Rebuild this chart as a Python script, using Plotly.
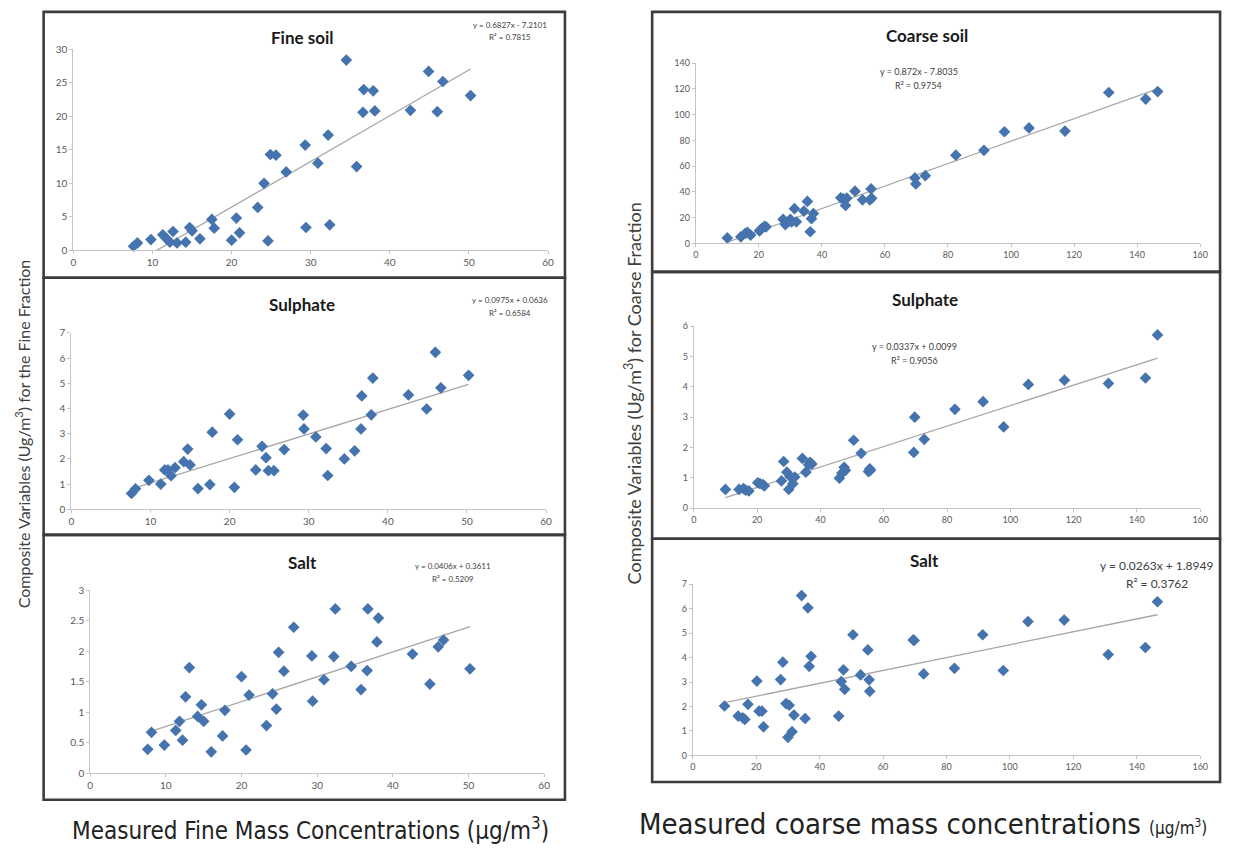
import plotly.graph_objects as go

W, H = 1234, 856

# ---------------- data: fine fraction ----------------
fine_mass = [7.6, 8.1, 9.8, 11.3, 11.8, 12.2, 12.6, 13.1, 14.2, 14.7, 15.0, 16.0, 17.5, 17.8,
             20.0, 20.6, 21.0, 23.3, 24.1, 24.6, 24.9, 25.6, 26.9, 29.3, 29.4, 30.9, 32.2, 32.4,
             34.5, 35.8, 36.6, 36.7, 37.9, 38.1, 42.6, 44.9, 46.0, 46.7, 50.2]
fine_soil = [0.6, 1.1, 1.6, 2.3, 1.7, 1.2, 2.8, 1.1, 1.2, 3.4, 2.9, 1.7, 4.6, 3.3,
             1.5, 4.8, 2.6, 6.4, 10.0, 1.4, 14.3, 14.2, 11.7, 15.7, 3.4, 13.0, 17.2, 3.8,
             28.4, 12.5, 20.6, 24.0, 23.8, 20.8, 20.9, 26.7, 20.7, 25.2, 23.1]
fine_sulphate = [0.63, 0.81, 1.15, 1.0, 1.56, 1.56, 1.33, 1.65, 1.89, 2.39, 1.76, 0.82, 0.98, 3.06,
                 3.78, 0.87, 2.76, 1.56, 2.50, 2.05, 1.53, 1.53, 2.37, 3.74, 3.19, 2.87, 2.41, 1.34,
                 2.00, 2.32, 3.19, 4.50, 3.75, 5.21, 4.54, 3.98, 6.23, 4.82, 5.32]
fine_salt = [0.39, 0.67, 0.46, 0.70, 0.85, 0.54, 1.25, 1.73, 0.93, 1.12, 0.85, 0.35, 0.61, 1.03,
             1.58, 0.38, 1.28, 0.78, 1.30, 1.05, 1.98, 1.67, 2.39, 1.92, 1.18, 1.53, 1.91, 2.69,
             1.75, 1.37, 1.68, 2.69, 2.15, 2.54, 1.95, 1.46, 2.07, 2.18, 1.71]

# ---------------- data: coarse fraction ----------------
coarse_mass = [10.0, 14.3, 15.7, 16.4, 17.4, 20.2, 20.9, 21.8, 22.3,
               27.7, 28.4, 29.4, 30.0, 30.4, 31.3, 31.9,
               34.3, 35.4, 36.3, 36.7, 37.3,
               46.0, 46.8, 47.5, 47.9,
               50.5, 52.9, 55.2, 55.6, 55.8,
               69.5, 69.8, 72.8, 82.5, 91.4, 97.9, 105.7, 117.1, 131.0, 142.7, 146.5]
coarse_soil = [4.2, 5.1, 7.7, 8.5, 6.4, 9.7, 11.5, 13.3, 12.8,
               18.7, 14.6, 16.7, 18.7, 16.7, 26.9, 16.7,
               25.1, 32.6, 9.0, 19.2, 23.1,
               35.4, 34.6, 29.5, 35.1,
               40.5, 33.8, 33.8, 42.3, 35.0,
               50.8, 46.2, 52.6, 68.5, 72.3, 86.7, 89.7, 87.2, 117.2, 112.1, 117.9]
coarse_sulphate = [0.62, 0.62, 0.65, 0.60, 0.57, 0.84, 0.81, 0.78, 0.74,
                   0.90, 1.54, 1.19, 0.62, 1.05, 0.81, 1.03,
                   1.64, 1.19, 1.43, 1.51, 1.46,
                   0.99, 1.16, 1.35, 1.25,
                   2.24, 1.81, 1.21, 1.30, 1.25,
                   1.84, 3.00, 2.27, 3.26, 3.51, 2.68, 4.08, 4.22, 4.11, 4.29, 5.71]
coarse_salt = [2.02, 1.61, 1.54, 1.47, 2.09, 3.04, 1.81, 1.81, 1.17,
               3.10, 3.81, 2.12, 0.74, 2.05, 0.97, 1.65,
               6.53, 1.51, 6.03, 3.64, 4.05,
               1.61, 3.02, 3.50, 2.70,
               4.93, 3.29, 4.31, 3.09, 2.62,
               4.72, 4.70, 3.33, 3.56, 4.93, 3.47, 5.47, 5.53, 4.12, 4.41, 6.28]

# trendline coefficients (slope, intercept) as printed in the charts
trend_coef = {
    "fine_soil": (0.6827, -7.2101),
    "fine_sulphate": (0.0975, 0.0636),
    "fine_salt": (0.0406, 0.3611),
    "coarse_soil": (0.872, -7.8035),
    "coarse_sulphate": (0.0337, 0.0099),
    "coarse_salt": (0.0263, 1.8949),
}
eq_text = {
    "fine_soil": ("y = 0.6827x - 7.2101", "R² = 0.7815"),
    "fine_sulphate": ("y = 0.0975x + 0.0636", "R² = 0.6584"),
    "fine_salt": ("y = 0.0406x + 0.3611", "R² = 0.5209"),
    "coarse_soil": ("y = 0.872x - 7.8035", "R² = 0.9754"),
    "coarse_sulphate": ("y = 0.0337x + 0.0099", "R² = 0.9056"),
    "coarse_salt": ("y = 0.0263x + 1.8949", "R² = 0.3762"),
}
titles = {"fine_soil": "Fine soil", "fine_sulphate": "Sulphate", "fine_salt": "Salt",
          "coarse_soil": "Coarse soil", "coarse_sulphate": "Sulphate", "coarse_salt": "Salt"}

# ---------------- layout geometry (pixels) ----------------
panels = [
    ("fine_soil", fine_mass, fine_soil, 71, 550, 247, 43, 60, 30, 10, 5, (302, 31), (512, 18), 8, 10),
    ("fine_sulphate", fine_mass, fine_sulphate, 69, 548, 510, 331, 60, 7, 10, 1, (302, 302), (512, 298), 8, 10),
    ("fine_salt", fine_mass, fine_salt, 88, 546, 778, 592, 60, 3, 10, 0.5, (302, 564), (454, 568), 8, 10),
    ("coarse_soil", coarse_mass, coarse_soil, 699, 1208, 240, 57, 160, 140, 20, 20, (932, 29), (924, 66), 9, 9),
    ("coarse_sulphate", coarse_mass, coarse_sulphate, 697, 1208, 509, 324, 160, 6, 20, 1, (930, 297), (920, 345), 9, 9),
    ("coarse_salt", coarse_mass, coarse_salt, 696, 1208, 760, 586, 160, 7, 20, 1, (930, 562), (1164, 567), 12, 9),
]

FONT = "Lato, Carlito, Calibri, 'Open Sans', sans-serif"
MARK = "#4573AE"

fig = go.Figure()
layout = dict(width=W, height=H, margin=dict(l=0, r=0, t=0, b=0),
              paper_bgcolor="white", plot_bgcolor="white", showlegend=False)
annotations = []
shapes = []

def px(x):
    return x / W

def py(y):
    return 1 - y / H

for i, (key, xs, ys, x0, x1, yb, yt, xmax, ymax, xdt, ydt, tpos, epos, efs, tfs) in enumerate(panels, start=1):
    xa = "x" if i == 1 else f"x{i}"
    ya = "y" if i == 1 else f"y{i}"
    a, b = trend_coef[key]
    lx = [min(xs), max(xs)]
    ly = [a * v + b for v in lx]
    fig.add_trace(go.Scatter(x=lx, y=ly, mode="lines", xaxis=xa, yaxis=ya,
                             line=dict(color="#A6A6A6", width=1.3), hoverinfo="skip"))
    fig.add_trace(go.Scatter(x=xs, y=ys, mode="markers", xaxis=xa, yaxis=ya,
                             marker=dict(symbol="diamond", size=9, color=MARK,
                                         line=dict(width=0)), cliponaxis=False))
    axcommon = dict(showgrid=False, zeroline=False, showline=True, linecolor="#C4C4C4",
                    linewidth=1, ticks="outside", ticklen=3, tickcolor="#C4C4C4",
                    tickfont=dict(family=FONT, size=tfs, color="#595959"))
    layout["xaxis" if i == 1 else f"xaxis{i}"] = dict(
        domain=[px(x0), px(x1)], range=[0, xmax], dtick=xdt, tick0=0,
        anchor=ya, fixedrange=True, **axcommon)
    layout["yaxis" if i == 1 else f"yaxis{i}"] = dict(
        domain=[py(yb), py(yt)], range=[0, ymax], dtick=ydt, tick0=0,
        anchor=xa, fixedrange=True, **axcommon)
    annotations.append(dict(x=px(tpos[0]), y=py(tpos[1]), xref="paper", yref="paper",
                            text=f"<b>{titles[key]}</b>", showarrow=False,
                            font=dict(family=FONT, size=17, color="#1a1a1a"),
                            xanchor="center", yanchor="middle"))
    l1, l2 = eq_text[key]
    annotations.append(dict(x=px(epos[0]), y=py(epos[1]), xref="paper", yref="paper",
                            text=l1, showarrow=False,
                            font=dict(family=FONT, size=efs, color="#404040"),
                            xanchor="center", yanchor="middle"))
    annotations.append(dict(x=px(epos[0]), y=py(epos[1] + efs * 1.55), xref="paper", yref="paper",
                            text=l2, showarrow=False,
                            font=dict(family=FONT, size=efs, color="#404040"),
                            xanchor="center", yanchor="middle"))

# panel frames
frames = [(41, 5, 567, 275), (41, 275, 567, 536), (41, 536, 567, 805),
          (655, 5, 1228, 269), (655, 269, 1228, 540), (655, 540, 1228, 787)]
for (fx0, fy0, fx1, fy1) in frames:
    shapes.append(dict(type="rect", xref="paper", yref="paper",
                       x0=px(fx0), x1=px(fx1), y0=py(fy1), y1=py(fy0),
                       line=dict(color="#3C3C3C", width=2.6), fillcolor="rgba(0,0,0,0)"))

# axis titles
annotations.append(dict(x=px(20), y=py(433), xref="paper", yref="paper",
                        text="Composite Variables (Ug/m<sup>3</sup>) for the Fine Fraction",
                        textangle=-90, showarrow=False,
                        font=dict(family=FONT, size=16, color="#404040"),
                        xanchor="center", yanchor="middle"))
annotations.append(dict(x=px(636), y=py(392), xref="paper", yref="paper",
                        text="Composite Variables (Ug/m<sup>3</sup>) for Coarse Fraction",
                        textangle=-90, showarrow=False,
                        font=dict(family=FONT, size=18, color="#404040"),
                        xanchor="center", yanchor="middle"))
CAP = "'DejaVu Sans Condensed', 'Liberation Sans Narrow', 'DejaVu Sans', sans-serif"
annotations.append(dict(x=px(310), y=py(835), xref="paper", yref="paper",
                        text="Measured Fine Mass Concentrations (μg/m<sup>3</sup>)",
                        showarrow=False, font=dict(family=CAP, size=24, color="#222222"),
                        xanchor="center", yanchor="middle"))
annotations.append(dict(x=px(928), y=py(830), xref="paper", yref="paper",
                        text="Measured coarse mass concentrations <span style='font-size:17px'>(μg/m<sup>3</sup>)</span>",
                        showarrow=False, font=dict(family=CAP, size=29, color="#222222"),
                        xanchor="center", yanchor="middle"))

layout["annotations"] = annotations
layout["shapes"] = shapes
fig.update_layout(**layout)
fig.write_html("out.html", config={"displayModeBar": False})
